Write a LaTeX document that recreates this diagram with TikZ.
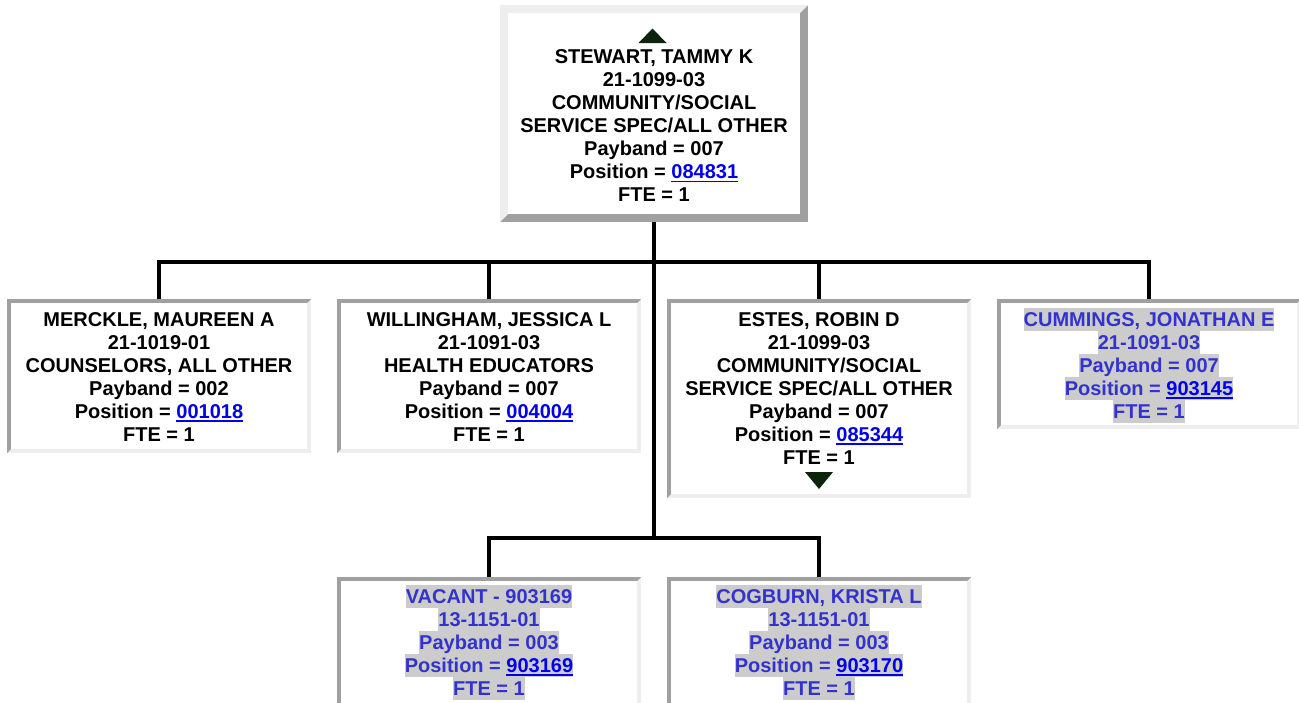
\documentclass[tikz,border=0pt]{standalone}
\usepackage{fontspec}
\setmainfont{Liberation Sans}
\usetikzlibrary{calc}
\definecolor{ltgray}{HTML}{EEEEEE}
\definecolor{dkgray}{HTML}{A0A0A0}
\definecolor{hlgray}{HTML}{CCCCCC}
\definecolor{vtext}{HTML}{3333CC}
\definecolor{linkblue}{HTML}{0000EE}
\definecolor{arrowgreen}{HTML}{0C230C}
\newcommand\ms{\rule[-4.5pt]{0pt}{23pt}}
\newcommand\lnk[1]{{\color{linkblue}\setbox0\hbox{#1}\rlap{\rule[-3.8pt]{\wd0}{1.8pt}}\box0}}
\newcommand\hl[1]{{\fboxsep=0pt\colorbox{hlgray}{\ms#1}}}
\newcommand\insetframe[2]{%
  \fill[ltgray] (#1.north west) rectangle (#1.south east);
  \fill[dkgray] (#1.south west) -- (#1.north west) -- (#1.north east) -- ($(#1.north east)+(-#2,#2)$) -- ($(#1.north west)+(#2,#2)$) -- ($(#1.south west)+(#2,-#2)$) -- cycle;
  \fill[white] ($(#1.north west)+(#2,#2)$) rectangle ($(#1.south east)+(-#2,-#2)$);}
\newcommand\outsetframe[2]{%
  \fill[dkgray] (#1.north west) rectangle (#1.south east);
  \fill[ltgray] (#1.south west) -- (#1.north west) -- (#1.north east) -- ($(#1.north east)+(-#2,#2)$) -- ($(#1.north west)+(#2,#2)$) -- ($(#1.south west)+(#2,-#2)$) -- cycle;
  \fill[white] ($(#1.north west)+(#2,#2)$) rectangle ($(#1.south east)+(-#2,-#2)$);}
\tikzset{
  conn/.style={line width=4pt, black},
  boxnode/.style={rectangle, inner sep=0pt, outer sep=0pt, minimum width=304, minimum height=154},
  txt/.style={anchor=north, align=center, inner sep=0pt, font=\fontsize{20}{23}\selectfont\bfseries, text=black},
  vtxt/.style={txt, text=vtext},
  tri/.style={fill=arrowgreen}
}
\begin{document}
\begin{tikzpicture}[x=1pt, y=-1pt]
\useasboundingbox (0,0) rectangle (1299,702);
\clip (0,0) rectangle (1299,702);
\fill[white] (0,0) rectangle (1299,702);
% boxes
\node[boxnode, minimum width=308, minimum height=217] (stewart) at (654,113.5) {};
\node[boxnode] (merckle) at (159,376) {};
\node[boxnode] (willingham) at (489,376) {};
\node[boxnode, minimum height=199] (estes) at (819,398.5) {};
\node[boxnode, minimum height=130] (cummings) at (1149,364) {};
\node[boxnode, minimum height=163] (vacant) at (489,658.5) {};
\node[boxnode, minimum height=163] (cogburn) at (819,658.5) {};
\outsetframe{stewart}{8}
\insetframe{merckle}{4}
\insetframe{willingham}{4}
\insetframe{estes}{4}
\insetframe{cummings}{4}
\insetframe{vacant}{4}
\insetframe{cogburn}{4}
% connectors
\coordinate (bus1) at (654,262);
\coordinate (bus2) at (654,538);
\draw[conn] (stewart.south) -- (bus2);
\draw[conn] (merckle.north) |- (bus1);
\draw[conn] (willingham.north) |- (bus1);
\draw[conn] (estes.north) |- (bus1);
\draw[conn] (cummings.north) |- (bus1);
\draw[conn] (vacant.north) |- (bus2);
\draw[conn] (cogburn.north) |- (bus2);
% triangles
\fill[tri] (638.5,43) -- (666.5,43) -- (652.5,28.5) -- cycle;
\fill[tri] (805,472) -- (833,472) -- (819,489) -- cycle;
% texts
\node[txt] (stewartT) at (654,44.8) {\ms STEWART, TAMMY K\\ \ms 21-1099-03\\ \ms COMMUNITY/SOCIAL\\ \ms SERVICE SPEC/ALL OTHER\\ \ms Payband = 007\\ \ms Position = \lnk{084831}\\ \ms FTE = 1};
\node[txt] (merckleT) at (159,307.5) {\ms MERCKLE, MAUREEN A\\ \ms 21-1019-01\\ \ms COUNSELORS, ALL OTHER\\ \ms Payband = 002\\ \ms Position = \lnk{001018}\\ \ms FTE = 1};
\node[txt] (willinghamT) at (489,307.5) {\ms WILLINGHAM, JESSICA L\\ \ms 21-1091-03\\ \ms HEALTH EDUCATORS\\ \ms Payband = 007\\ \ms Position = \lnk{004004}\\ \ms FTE = 1};
\node[txt] (estesT) at (819,307.5) {\ms ESTES, ROBIN D\\ \ms 21-1099-03\\ \ms COMMUNITY/SOCIAL\\ \ms SERVICE SPEC/ALL OTHER\\ \ms Payband = 007\\ \ms Position = \lnk{085344}\\ \ms FTE = 1};
\node[vtxt] (cummingsT) at (1149,307.5) {\hl{CUMMINGS, JONATHAN E}\\ \hl{21-1091-03}\\ \hl{Payband = 007}\\ \hl{Position = \lnk{903145}}\\ \hl{FTE = 1}};
\node[vtxt] (vacantT) at (489,584.5) {\hl{VACANT - 903169}\\ \hl{13-1151-01}\\ \hl{Payband = 003}\\ \hl{Position = \lnk{903169}}\\ \hl{FTE = 1}};
\node[vtxt] (cogburnT) at (819,584.5) {\hl{COGBURN, KRISTA L}\\ \hl{13-1151-01}\\ \hl{Payband = 003}\\ \hl{Position = \lnk{903170}}\\ \hl{FTE = 1}};
\end{tikzpicture}
\end{document}
